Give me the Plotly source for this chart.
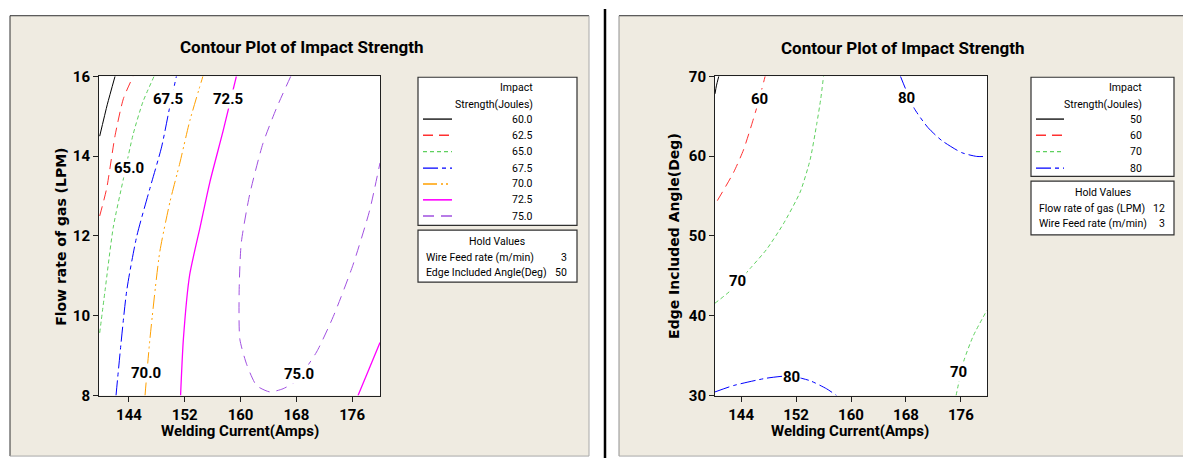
import plotly.graph_objects as go

W, H = 1183, 467

# ---------------- data: left panel (Welding Current vs Flow rate of gas) ----------------
L_levels = ["60.0", "62.5", "65.0", "67.5", "70.0", "72.5", "75.0"]
L60_x = [139.8, 140.9, 142.0]
L60_y = [14.5, 15.3, 16.0]
L625_x = [139.8, 140.8, 142.0, 143.2, 144.6]
L625_y = [12.5, 13.19, 14.51, 15.44, 16.0]
L65_x = [139.8, 140.56, 141.75, 143.2, 144.6, 146.0, 147.6]
L65_y = [9.57, 10.62, 12.22, 13.43, 14.55, 15.36, 16.0]
L675_x = [142.14, 143.67, 145.1, 147.0, 148.68, 149.9, 150.8]
L675_y = [8.0, 10.62, 11.98, 13.19, 14.23, 15.28, 16.0]
L70_x = [146.3, 147.0, 148.4, 149.9, 151.3, 152.7, 154.6]
L70_y = [8.0, 9.41, 11.58, 12.87, 13.83, 14.87, 16.0]
L725a_x = [151.4, 151.8, 152.7, 154.2, 155.6, 157.5, 159.4]
L725a_y = [8.0, 9.41, 11.02, 12.22, 13.35, 14.63, 16.0]
L725b_x = [176.85, 178.4, 180.0]
L725b_y = [8.0, 8.65, 9.33]
L75_x = [167.2, 165.15, 163.2, 161.3, 160.1, 159.8, 159.9, 160.9, 162.3, 164.2, 166.1,
         168.0, 170.9, 173.3, 176.1, 178.5, 180.0]
L75_y = [16.0, 15.2, 14.31, 13.03, 11.82, 10.62, 9.41, 8.77, 8.25, 8.09, 8.17,
         8.37, 9.09, 9.98, 11.26, 12.63, 13.83]
L_lab_text = ["67.5", "72.5", "65.0", "70.0", "75.0"]
L_lab_x = [149.63, 158.2, 144.04, 146.43, 168.35]
L_lab_y = [15.44, 15.44, 13.71, 8.57, 8.53]
L_hold_names = ["Wire Feed rate (m/min)", "Edge Included Angle(Deg)"]
L_hold_vals = ["3", "50"]

# ---------------- data: right panel (Welding Current vs Edge Included Angle) ----------------
R_levels = ["50", "60", "70", "80"]
R50_x = [140.2, 140.4, 140.75]
R50_y = [67.8, 68.8, 70.0]
R60_x = [140.54, 142.9, 144.34, 145.55, 146.52, 147.5]
R60_y = [54.42, 57.95, 60.76, 63.98, 66.79, 70.0]
R70a_x = [140.2, 142.4, 145.3, 147.7, 150.15, 152.6, 154.05, 155.0, 155.6, 156.0]
R70a_y = [41.57, 43.1, 45.9, 48.3, 51.5, 55.5, 59.55, 63.98, 67.2, 70.0]
R70b_x = [175.3, 176.4, 177.8, 179.8]
R70b_y = [30.0, 34.27, 37.47, 40.7]
R80a_x = [167.2, 169.2, 171.2, 173.2, 176.1, 178.3, 179.8]
R80a_y = [70.0, 65.99, 63.58, 61.96, 60.44, 59.96, 59.96]
R80b_x = [140.2, 142.9, 147.7, 151.1, 154.05, 156.45, 157.9]
R80b_y = [30.45, 31.25, 32.17, 32.45, 31.85, 30.84, 30.0]
R_lab_text = ["60", "80", "70", "80", "70"]
R_lab_x = [146.66, 168.1, 143.5, 151.3, 175.6]
R_lab_y = [67.2, 67.3, 44.4, 32.3, 32.9]
R_hold_names = ["Flow rate of gas (LPM)", "Wire Feed rate (m/min)"]
R_hold_vals = ["12", "3"]

x_ticks = [144, 152, 160, 168, 176]
L_y_ticks = [8, 10, 12, 14, 16]
R_y_ticks = [30, 40, 50, 60, 70]

# ---------------- styles ----------------
NARROW = "Roboto, Liberation Sans, sans-serif"
WIDE = "DejaVu Sans, Verdana, sans-serif"
BEIGE = "#EFEBE1"

STY = {
    "60.0": dict(color="#000000", dash="solid", width=1),
    "62.5": dict(color="#FF3030", dash="10px,6px", width=1),
    "65.0": dict(color="#5ED05E", dash="4px,3px", width=1),
    "67.5": dict(color="#0000FF", dash="15px,4px,4px,4px", width=1),
    "70.0": dict(color="#FFA000", dash="14px,4px,2px,3px,2px,4px", width=1),
    "72.5": dict(color="#FF00FF", dash="solid", width=1.3),
    "75.0": dict(color="#A050E0", dash="11px,7px", width=1),
}
RSTY = {"50": STY["60.0"], "60": STY["62.5"], "70": STY["65.0"], "80": STY["67.5"]}

fig = go.Figure()

def add_line(xs, ys, sty, xa, ya):
    fig.add_trace(go.Scatter(x=xs, y=ys, mode="lines", line=dict(shape="spline", smoothing=0.6, **sty),
                             xaxis=xa, yaxis=ya, showlegend=False, hoverinfo="skip"))

for xs, ys, lv in [(L60_x, L60_y, "60.0"), (L625_x, L625_y, "62.5"), (L65_x, L65_y, "65.0"),
                   (L675_x, L675_y, "67.5"), (L70_x, L70_y, "70.0"), (L725a_x, L725a_y, "72.5"),
                   (L725b_x, L725b_y, "72.5"), (L75_x, L75_y, "75.0")]:
    add_line(xs, ys, STY[lv], "x", "y")

for xs, ys, lv in [(R50_x, R50_y, "50"), (R60_x, R60_y, "60"), (R70a_x, R70a_y, "70"),
                   (R70b_x, R70b_y, "70"), (R80a_x, R80a_y, "80"), (R80b_x, R80b_y, "80")]:
    add_line(xs, ys, RSTY[lv], "x2", "y2")

ann = []
for t, x, y in zip(L_lab_text, L_lab_x, L_lab_y):
    ann.append(dict(x=x, y=y, xref="x", yref="y", text="<b>%s</b>" % t, showarrow=False,
                    bgcolor="white", borderpad=0, font=dict(family=NARROW, size=15, color="black")))
for t, x, y in zip(R_lab_text, R_lab_x, R_lab_y):
    ann.append(dict(x=x, y=y, xref="x2", yref="y2", text="<b>%s</b>" % t, showarrow=False,
                    bgcolor="white", borderpad=0, font=dict(family=NARROW, size=15, color="black")))

def px(x):
    return x / W

def py(y):
    return 1 - y / H

def text(x, y, s, size=10.5, anchor="center", bold=False, family=NARROW, angle=0):
    ann.append(dict(x=px(x), y=py(y), xref="paper", yref="paper", text=("<b>%s</b>" % s) if bold else s,
                    showarrow=False, xanchor=anchor, yanchor="middle", textangle=angle,
                    font=dict(family=family, size=size, color="black")))

# titles & axis titles
text(301, 40, "Contour Plot of Impact Strength", size=17, bold=True)
text(902, 41, "Contour Plot of Impact Strength", size=17, bold=True)
text(240, 439, "Welding Current(Amps)", size=15, bold=True)
text(850, 439, "Welding Current(Amps)", size=15, bold=True)
text(61, 237, "Flow rate of gas (LPM)", size=14, bold=True, family=WIDE, angle=-90)
text(674, 236, "Edge Included Angle(Deg)", size=14, bold=True, family=WIDE, angle=-90)

shapes = []
def rect(x0, y0, x1, y1, fill=None, line=None, lw=1):
    shapes.append(dict(type="rect", xref="paper", yref="paper", x0=px(x0), x1=px(x1), y0=py(y1), y1=py(y0),
                       fillcolor=fill or "rgba(0,0,0,0)", line=dict(color=line or "rgba(0,0,0,0)", width=lw),
                       layer="below"))

def seg(x0, y0, x1, y1, color, width=1, dash="solid", layer="below"):
    shapes.append(dict(type="line", xref="paper", yref="paper", x0=px(x0), x1=px(x1), y0=py(y0), y1=py(y1),
                       line=dict(color=color, width=width, dash=dash), layer=layer))

# panels
rect(10, 7, 589, 465, fill=BEIGE)
seg(10, 7, 589, 7, "#303030")
seg(10, 7, 10, 465, "#303030")
seg(589, 7, 589, 465, "#A8A8A8")
seg(10, 465, 589, 465, "#A8A8A8")
rect(619, 7, 1183, 465, fill=BEIGE)
seg(619, 7, 1183, 7, "#303030")
seg(619, 7, 619, 465, "#909090")
seg(619, 465, 1183, 465, "#A8A8A8")
seg(605, 0, 605, 467, "#000000", width=2.5)
# plot areas (white)
rect(99, 70, 380, 402, fill="white")
rect(715, 70, 987, 402, fill="white")

# legends
def legend(bx0, bx1, by0, by1, valx, levels, stys, lx0, lx1, hy0, hy1, names, vals, namex, vx):
    rect(bx0, by0, bx1, by1, fill="white", line="#303030", lw=1.2)
    text(valx, 82, "Impact", anchor="right")
    text(valx, 99, "Strength(Joules)", anchor="right")
    rows = [114.5, 131.3, 148.3, 165.5, 182, 198.5, 215.3]
    for i, lv in enumerate(levels):
        s = stys[lv]
        seg(lx0, rows[i], lx1, rows[i], s["color"], width=s["width"] + 0.3, dash=s["dash"], layer="above")
        text(valx, rows[i], lv, anchor="right")
    rect(bx0, hy0, bx1, hy1, fill="white", line="#303030", lw=1.2)
    text((bx0 + bx1) / 2, hy0 + 12, "Hold Values")
    for i, (n, v) in enumerate(zip(names, vals)):
        text(namex, hy0 + 28 + 16.5 * i, n, anchor="left")
        text(vx, hy0 + 28 + 16.5 * i, v, anchor="right")

legend(418, 577, 71, 225, 535, L_levels, STY, 423, 452, 230, 284, L_hold_names, L_hold_vals, 424, 569)
legend(1031, 1174, 71, 174, 1144, R_levels, RSTY, 1036, 1064, 179, 235, R_hold_names, R_hold_vals, 1037, 1167)

axis_common = dict(showgrid=False, zeroline=False, showline=True, mirror=True, linecolor="#202020", linewidth=1,
                   ticks="outside", ticklen=5, tickcolor="#202020",
                   tickfont=dict(family=NARROW, size=15, color="black"))

fig.update_layout(
    width=W, height=H, autosize=False,
    margin=dict(l=0, r=0, t=0, b=0),
    paper_bgcolor="white", plot_bgcolor="rgba(0,0,0,0)",
    showlegend=False,
    xaxis=dict(domain=[px(99), px(380)], range=[139.7, 180.0], tickvals=x_ticks,
               ticktext=["<b>%d</b>" % t for t in x_ticks], anchor="y", **axis_common),
    yaxis=dict(domain=[py(402), py(70)], range=[8, 16], tickvals=L_y_ticks,
               ticktext=["<b>%d</b>" % t for t in L_y_ticks], anchor="x", **axis_common),
    xaxis2=dict(domain=[px(715), px(987)], range=[140.2, 179.8], tickvals=x_ticks,
                ticktext=["<b>%d</b>" % t for t in x_ticks], anchor="y2", **axis_common),
    yaxis2=dict(domain=[py(402), py(70)], range=[30, 70], tickvals=R_y_ticks,
                ticktext=["<b>%d</b>" % t for t in R_y_ticks], anchor="x2", **axis_common),
    shapes=shapes,
    annotations=ann,
)

fig.write_html("out.html")
